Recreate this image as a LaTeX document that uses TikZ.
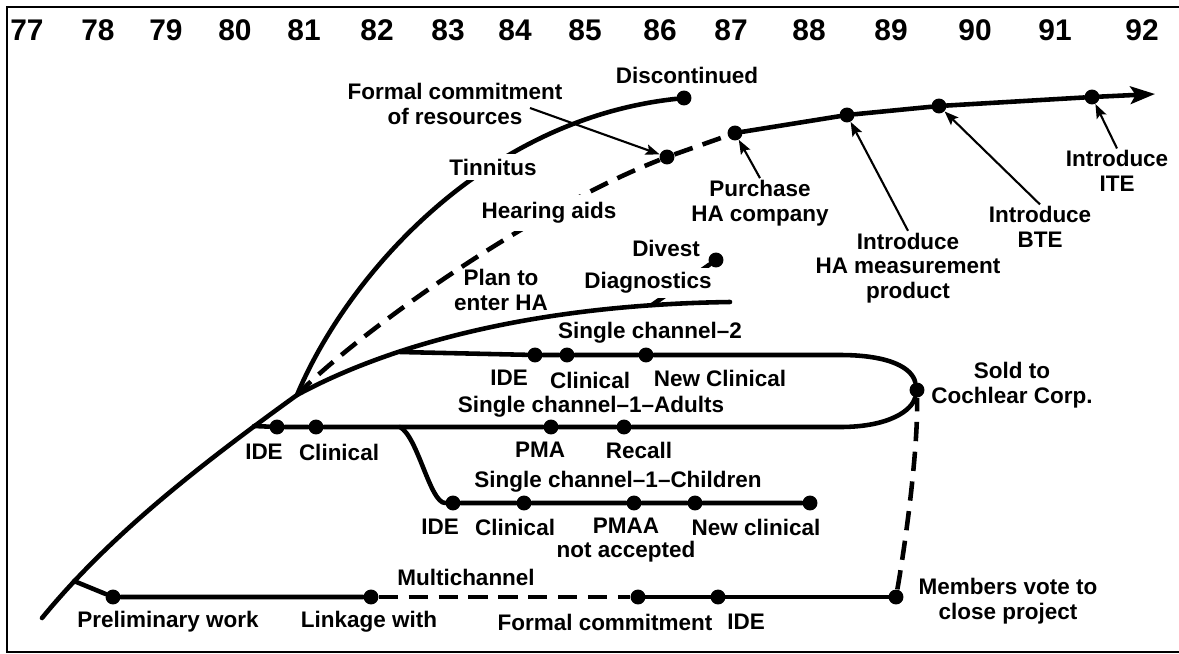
\documentclass[tikz,border=0pt]{standalone}
\usepackage{fontspec}
\setmainfont{Liberation Sans}
\usepackage{tikz}
\usetikzlibrary{arrows.meta}

\tikzset{
  line/.style={line width=2.6pt, line cap=round, line join=round},
  dashline/.style={line width=2.6pt, dash pattern=on 11pt off 6pt},
  note/.style={line width=1.2pt, -{Stealth[length=8pt,width=6pt,inset=1.5pt]}},
  dot/.style={circle, fill, inner sep=0pt, minimum size=8.5pt},
  lab/.style={font=\fontsize{12.8}{14}\selectfont\bfseries, align=center, inner sep=1pt},
  cut/.style={lab, fill=white, inner sep=2.5pt},
  yr/.style={font=\fontsize{17}{17}\selectfont\bfseries}
}

\begin{document}
\begin{tikzpicture}[x=0.02cm, y=-0.02cm]
    \useasboundingbox (0,0) rectangle (1179,653);
    % Frame
    \draw[line width=1.2pt] (1179,7) -- (7,7) -- (7,652) -- (1179,652);

    % Years
    \foreach \yy/\xx in {77/27, 78/98, 79/166, 80/235, 81/304, 82/377, 83/448, 84/515,
                         85/585, 86/660, 87/731, 88/809, 89/891, 90/975, 91/1055, 92/1142}
        \node[yr] (y\yy) at (\xx,30) {\yy};

    % Trunk and forks
    \coordinate (base) at (42,618);
    \coordinate (fork) at (297,395);
    \coordinate (prefork) at (74,581);
    \coordinate (adfork) at (254,426);
    \draw[line] (base) .. controls (110,535) and (200,465) .. (fork);

    % Events (dots)
    \node[dot] (disc) at (684,98) {};
    \node[dot] (ha) at (667,157) {};
    \node[dot] (purch) at (735,133) {};
    \node[dot] (meas) at (847,115) {};
    \node[dot] (bte) at (939,106) {};
    \node[dot] (ite) at (1092,97) {};
    \coordinate (arrowend) at (1155,94);
    \node[dot] (divest) at (716,260) {};
    \node[dot] (sold) at (917,390) {};

    % Tinnitus
    \draw[line] (fork) .. controls (345,280) and (480,120) .. (disc);

    % Hearing aids
    \draw[dashline] (fork) .. controls (350,340) and (520,215) .. (ha) -- (purch);
    \draw[line, -{Stealth[length=14pt,width=10pt,inset=3pt]}] (purch) -- (meas) -- (bte) -- (ite) -- (arrowend);

    % Diagnostics
    \coordinate (diagend) at (730,302);
    \coordinate (divfork) at (652,305);
    \draw[line] (fork) .. controls (380,350) and (520,305) .. (diagend);
    \draw[line] (divfork) -- (divest);

    % Single channel-2
    \coordinate (sc2fork) at (400,352);
    \coordinate (sc2bend) at (840,355);
    \node[dot] (ide2) at (535,355) {};
    \node[dot] (clin2) at (567,355) {};
    \node[dot] (newclin2) at (646,355) {};
    \draw[line] (sc2fork) -- (ide2) -- (clin2) -- (newclin2) -- (sc2bend) .. controls (890,355) and (912,368) .. (sold);

    % Single channel-1-Adults
    \coordinate (chfork) at (400,427);
    \coordinate (adbend) at (840,427);
    \node[dot] (ide1) at (277,427) {};
    \node[dot] (clin1) at (316,427) {};
    \node[dot] (pma) at (551,427) {};
    \node[dot] (recall) at (624,427) {};
    \draw[line] (adfork) -- (ide1) -- (clin1) -- (pma) -- (recall) -- (adbend) .. controls (890,427) and (912,410) .. (sold);

    % Single channel-1-Children
    \node[dot] (ide3) at (453,503) {};
    \node[dot] (clin3) at (524,503) {};
    \node[dot] (pmaa) at (634,503) {};
    \node[dot] (newclin3) at (695,503) {};
    \node[dot] (chend) at (810,503) {};
    \draw[line] (chfork) .. controls (418,437) and (430,503) .. (ide3) -- (clin3) -- (pmaa) -- (newclin3) -- (chend);

    % Multichannel
    \node[dot] (prelim) at (113,597) {};
    \node[dot] (link) at (371,597) {};
    \node[dot] (formal) at (638,597) {};
    \node[dot] (ide4) at (718,597) {};
    \node[dot] (members) at (896,597) {};
    \draw[line] (prefork) -- (prelim) -- (link);
    \draw[dashline] (link) -- (formal);
    \draw[line] (formal) -- (ide4) -- (members);
    \draw[dashline] (members) .. controls (906,540) and (918,450) .. (sold);

    % Labels on the upper branches
    \node[lab] (disclab) at (687,75) {Discontinued};
    \node[lab] (fcr) at (455,104) {Formal commitment\\of resources};
    \coordinate (fcrtail) at (530,108);
    \draw[note] (fcrtail) -- (ha);
    \node[cut] (tinlab) at (493,167) {Tinnitus};
    \node[cut, inner sep=4pt] (halab) at (549,213) {Hearing aids};
    \node[lab] (planlab) at (501,290) {Plan to\\enter HA};
    \node[lab] (divlab) at (666,248) {Divest};
    \node[cut] (diaglab) at (648,283) {Diagnostics};

    % Annotations with arrows
    \node[lab] (purchlab) at (760,203) {Purchase\\HA company};
    \draw[note] (purchlab.north) -- (purch);
    \node[lab] (measlab) at (908,268) {Introduce\\HA measurement\\product};
    \draw[note] (measlab.north) -- (meas);
    \node[lab] (btelab) at (1040,227) {Introduce\\BTE};
    \draw[note] (btelab.north) -- (bte);
    \node[lab] (itelab) at (1117,171) {Introduce\\ITE};
    \draw[note] (itelab.north) -- (ite);

    % Single channel labels
    \node[lab] (sc2lab) at (650,333) {Single channel--2};
    \node[lab] at (509,378) {IDE};
    \node[lab] at (590,380) {Clinical};
    \node[lab] at (720,378) {New Clinical};
    \node[lab] (adlab) at (591,407) {Single channel--1--Adults};
    \node[lab] at (264,452) {IDE};
    \node[lab] at (339,452) {Clinical};
    \node[lab] at (540,450) {PMA};
    \node[lab] at (639,450) {Recall};
    \node[lab] (chlab) at (618,482) {Single channel--1--Children};
    \node[lab] at (440,527) {IDE};
    \node[lab] at (515,527) {Clinical};
    \node[lab] at (626,540) {PMAA\\not accepted};
    \node[lab] at (756,527) {New clinical};
    \node[lab] (soldlab) at (1012,385) {Sold to\\Cochlear Corp.};

    % Multichannel labels
    \node[lab] (mclab) at (466,577) {Multichannel};
    \node[lab] at (168,622) {Preliminary work};
    \node[lab] at (369,622) {Linkage with};
    \node[lab] at (605,622) {Formal commitment};
    \node[lab] at (746,622) {IDE};
    \node[lab] (memlab) at (1008,601) {Members vote to\\close project};
\end{tikzpicture}
\end{document}
